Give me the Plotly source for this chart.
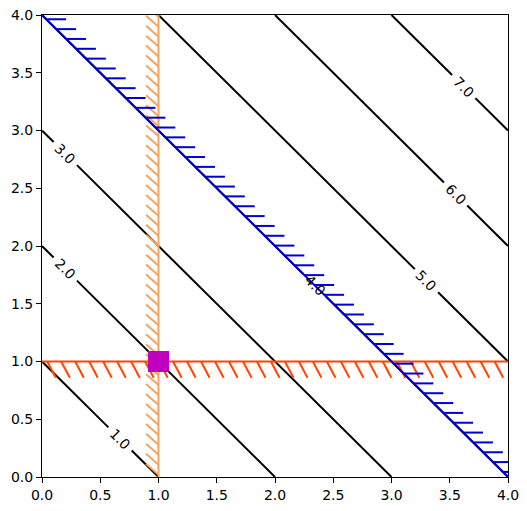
"""
Contours of x + y with three hatched constraint lines and the optimum marker.
"""

import numpy as np
import plotly.graph_objects as go

# objective contours: x + y = level
levels = [1.0, 2.0, 3.0, 4.0, 5.0, 6.0, 7.0]
# x position of each inline label (y follows from the level)
label_x = [0.67, 0.20, 0.20, 2.34, 3.30, 3.55, 3.62]

# constraint boundaries
g1_x = 1.0      # sandybrown, feasible side to the right
g2_y = 1.0      # orangered, feasible side above
g3_sum = 4.0    # mediumblue, x + y <= 4

optimum_x = [1.0]
optimum_y = [1.0]

LO, HI = 0.0, 4.0
FONT = "DejaVu Sans"


def hatch(x0, y0, dx, dy):
    """Short tick segments starting at (x0, y0), offset by (dx, dy)."""
    xs, ys = [], []
    for a, b in zip(x0, y0):
        xs += [a, a + dx, None]
        ys += [b, b + dy, None]
    return xs, ys


fig = go.Figure()

# ---------------------------------------------------------------------------
# black contour lines, broken where the label sits
# ---------------------------------------------------------------------------
gap = 0.1
for lev, lx in zip(levels, label_x):
    x0 = max(LO, lev - HI)
    x1 = min(HI, lev - LO)
    xs = [x0, lx - gap, None, lx + gap, x1]
    ys = [None if v is None else lev - v for v in xs]
    fig.add_trace(go.Scatter(
        x=xs, y=ys, mode="lines",
        line=dict(color="black", width=2),
        hoverinfo="skip", showlegend=False,
    ))

# ---------------------------------------------------------------------------
# constraints (ticked strokes)
# ---------------------------------------------------------------------------
# g1: vertical line, ticks up-left
ty = np.arange(3.985, 0.0, -0.0862)
hx, hy = hatch([g1_x] * len(ty), ty, -0.107, 0.095)
fig.add_trace(go.Scatter(x=hx, y=hy, mode="lines",
                         line=dict(color="#F4A460", width=2),
                         hoverinfo="skip", showlegend=False))
fig.add_trace(go.Scatter(x=[g1_x, g1_x], y=[LO, HI], mode="lines",
                         line=dict(color="#F4A460", width=2),
                         hoverinfo="skip", showlegend=False))

# g2: horizontal line, ticks down-right
tx = np.arange(0.045, HI + 0.1, 0.12)
hx, hy = hatch(tx, [g2_y] * len(tx), 0.074, -0.14)
fig.add_trace(go.Scatter(x=hx, y=hy, mode="lines",
                         line=dict(color="#FF4500", width=2),
                         hoverinfo="skip", showlegend=False))
fig.add_trace(go.Scatter(x=[LO, HI], y=[g2_y, g2_y], mode="lines",
                         line=dict(color="#FF4500", width=2),
                         hoverinfo="skip", showlegend=False))

# g3: diagonal x + y = 4, ticks to the right
ty = np.arange(3.963, 0.0, -0.0852)
hx, hy = hatch(g3_sum - ty, ty, 0.17, 0.0)
fig.add_trace(go.Scatter(x=hx, y=hy, mode="lines",
                         line=dict(color="#0000CD", width=2),
                         hoverinfo="skip", showlegend=False))
fig.add_trace(go.Scatter(x=[LO, g3_sum], y=[g3_sum, LO], mode="lines",
                         line=dict(color="#0000CD", width=2),
                         hoverinfo="skip", showlegend=False))

# optimum
fig.add_trace(go.Scatter(
    x=optimum_x, y=optimum_y, mode="markers",
    marker=dict(symbol="square", size=21, color="#BF00BF",
                line=dict(color="#BF00BF", width=0)),
    hoverinfo="skip", showlegend=False,
))

# contour labels
for lev, lx in zip(levels, label_x):
    fig.add_annotation(
        x=lx, y=lev - lx, text=f"{lev:.1f}", showarrow=False,
        textangle=45, font=dict(family=FONT, size=14, color="black"),
    )

axis_style = dict(
    range=[LO, HI], tick0=0, dtick=0.5, tickformat=".1f",
    showgrid=False, zeroline=False, automargin=False,
    showline=True, linecolor="black", linewidth=1, mirror=True,
    ticks="outside", ticklen=5, tickwidth=1, tickcolor="black",
    tickfont=dict(family=FONT, size=14, color="black"),
)

fig.update_layout(
    width=527, height=511,
    margin=dict(l=42, r=19, t=15, b=34),
    paper_bgcolor="white", plot_bgcolor="white",
    xaxis=axis_style, yaxis=axis_style,
)

# drop the default 8px body margin so the figure sits at the window corner
fig.write_html(
    "out.html",
    config={"displayModeBar": False},
    post_script="document.body.style.margin = '0';",
)
